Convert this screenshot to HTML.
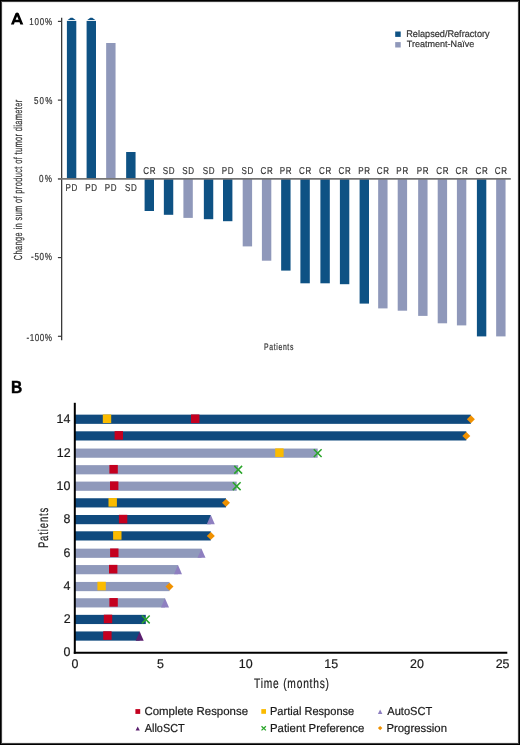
<!DOCTYPE html>
<html><head><meta charset="utf-8"><style>
html,body{margin:0;padding:0;background:#fff;}
.wrap{position:relative;width:520px;height:745px;overflow:hidden;background:#fff;}
.frame{position:absolute;left:0;top:0;width:520px;height:745px;box-shadow:inset 0 0 0 1px #000,inset 0 0 0 2px #404040,inset 0 0 0 3px #eeeeee;}
svg{position:absolute;left:0;top:0;will-change:transform;}
text{font-family:"Liberation Sans",sans-serif;text-rendering:geometricPrecision;}
</style></head><body><div class="wrap">
<svg width="520" height="745" viewBox="0 0 520 745">
<rect x="66.90" y="20.9" width="9.4" height="157.95" fill="#0e5284"/>
<polygon points="67.60,19.9 70.60,17.8 72.60,17.8 75.60,19.9" fill="#0e5284"/>
<text transform="translate(65.57,190.80) scale(0.8,1)" x="0" y="0" font-size="10.00" letter-spacing="0.850" fill="#333333" stroke="#333333" stroke-width="0.2">PD</text>
<rect x="86.60" y="20.9" width="9.4" height="157.95" fill="#0e5284"/>
<polygon points="87.30,19.9 90.30,17.8 92.30,17.8 95.30,19.9" fill="#0e5284"/>
<text transform="translate(85.27,190.80) scale(0.8,1)" x="0" y="0" font-size="10.00" letter-spacing="0.850" fill="#333333" stroke="#333333" stroke-width="0.2">PD</text>
<rect x="106.15" y="43" width="9.4" height="135.85" fill="#8f98ba"/>
<text transform="translate(104.82,190.80) scale(0.8,1)" x="0" y="0" font-size="10.00" letter-spacing="0.850" fill="#333333" stroke="#333333" stroke-width="0.2">PD</text>
<rect x="126.15" y="152" width="9.4" height="26.85" fill="#0e5284"/>
<text transform="translate(124.95,190.80) scale(0.8,1)" x="0" y="0" font-size="10.00" letter-spacing="0.874" fill="#333333" stroke="#333333" stroke-width="0.2">SD</text>
<rect x="144.60" y="178.85" width="9.4" height="32.15" fill="#0e5284"/>
<text transform="translate(143.14,174.20) scale(0.8,1)" x="0" y="0" font-size="10.00" letter-spacing="0.909" fill="#333333" stroke="#333333" stroke-width="0.2">CR</text>
<rect x="163.85" y="178.85" width="9.4" height="35.95" fill="#0e5284"/>
<text transform="translate(162.65,174.20) scale(0.8,1)" x="0" y="0" font-size="10.00" letter-spacing="0.874" fill="#333333" stroke="#333333" stroke-width="0.2">SD</text>
<rect x="183.40" y="178.85" width="9.4" height="39.05" fill="#8f98ba"/>
<text transform="translate(182.20,174.20) scale(0.8,1)" x="0" y="0" font-size="10.00" letter-spacing="0.874" fill="#333333" stroke="#333333" stroke-width="0.2">SD</text>
<rect x="203.85" y="178.85" width="9.4" height="40.35" fill="#0e5284"/>
<text transform="translate(202.65,174.20) scale(0.8,1)" x="0" y="0" font-size="10.00" letter-spacing="0.874" fill="#333333" stroke="#333333" stroke-width="0.2">SD</text>
<rect x="223.00" y="178.85" width="9.4" height="42.35" fill="#0e5284"/>
<text transform="translate(221.67,174.20) scale(0.8,1)" x="0" y="0" font-size="10.00" letter-spacing="0.850" fill="#333333" stroke="#333333" stroke-width="0.2">PD</text>
<rect x="242.70" y="178.85" width="9.4" height="67.55" fill="#8f98ba"/>
<text transform="translate(241.50,174.20) scale(0.8,1)" x="0" y="0" font-size="10.00" letter-spacing="0.874" fill="#333333" stroke="#333333" stroke-width="0.2">SD</text>
<rect x="261.90" y="178.85" width="9.4" height="81.85" fill="#8f98ba"/>
<text transform="translate(260.44,174.20) scale(0.8,1)" x="0" y="0" font-size="10.00" letter-spacing="0.909" fill="#333333" stroke="#333333" stroke-width="0.2">CR</text>
<rect x="281.15" y="178.85" width="9.4" height="91.75" fill="#0e5284"/>
<text transform="translate(279.81,174.20) scale(0.8,1)" x="0" y="0" font-size="10.00" letter-spacing="0.850" fill="#333333" stroke="#333333" stroke-width="0.2">PR</text>
<rect x="300.40" y="178.85" width="9.4" height="104.45" fill="#0e5284"/>
<text transform="translate(298.94,174.20) scale(0.8,1)" x="0" y="0" font-size="10.00" letter-spacing="0.909" fill="#333333" stroke="#333333" stroke-width="0.2">CR</text>
<rect x="320.40" y="178.85" width="9.4" height="104.45" fill="#0e5284"/>
<text transform="translate(318.94,174.20) scale(0.8,1)" x="0" y="0" font-size="10.00" letter-spacing="0.909" fill="#333333" stroke="#333333" stroke-width="0.2">CR</text>
<rect x="339.90" y="178.85" width="9.4" height="105.35" fill="#0e5284"/>
<text transform="translate(338.44,174.20) scale(0.8,1)" x="0" y="0" font-size="10.00" letter-spacing="0.909" fill="#333333" stroke="#333333" stroke-width="0.2">CR</text>
<rect x="359.60" y="178.85" width="9.4" height="124.75" fill="#0e5284"/>
<text transform="translate(358.26,174.20) scale(0.8,1)" x="0" y="0" font-size="10.00" letter-spacing="0.850" fill="#333333" stroke="#333333" stroke-width="0.2">PR</text>
<rect x="378.15" y="178.85" width="9.4" height="129.55" fill="#8f98ba"/>
<text transform="translate(376.69,174.20) scale(0.8,1)" x="0" y="0" font-size="10.00" letter-spacing="0.909" fill="#333333" stroke="#333333" stroke-width="0.2">CR</text>
<rect x="397.70" y="178.85" width="9.4" height="131.85" fill="#8f98ba"/>
<text transform="translate(396.36,174.20) scale(0.8,1)" x="0" y="0" font-size="10.00" letter-spacing="0.850" fill="#333333" stroke="#333333" stroke-width="0.2">PR</text>
<rect x="418.15" y="178.85" width="9.4" height="137.05" fill="#8f98ba"/>
<text transform="translate(416.81,174.20) scale(0.8,1)" x="0" y="0" font-size="10.00" letter-spacing="0.850" fill="#333333" stroke="#333333" stroke-width="0.2">PR</text>
<rect x="437.70" y="178.85" width="9.4" height="144.45" fill="#8f98ba"/>
<text transform="translate(436.24,174.20) scale(0.8,1)" x="0" y="0" font-size="10.00" letter-spacing="0.909" fill="#333333" stroke="#333333" stroke-width="0.2">CR</text>
<rect x="456.90" y="178.85" width="9.4" height="146.55" fill="#8f98ba"/>
<text transform="translate(455.44,174.20) scale(0.8,1)" x="0" y="0" font-size="10.00" letter-spacing="0.909" fill="#333333" stroke="#333333" stroke-width="0.2">CR</text>
<rect x="476.90" y="178.85" width="9.4" height="157.55" fill="#0e5284"/>
<text transform="translate(475.44,174.20) scale(0.8,1)" x="0" y="0" font-size="10.00" letter-spacing="0.909" fill="#333333" stroke="#333333" stroke-width="0.2">CR</text>
<rect x="496.15" y="178.85" width="9.4" height="157.55" fill="#8f98ba"/>
<text transform="translate(494.69,174.20) scale(0.8,1)" x="0" y="0" font-size="10.00" letter-spacing="0.909" fill="#333333" stroke="#333333" stroke-width="0.2">CR</text>
<line x1="61.65" y1="17.8" x2="61.65" y2="340.2" stroke="#3a3a3a" stroke-width="1.3"/>
<line x1="57.9" y1="21.40" x2="62" y2="21.40" stroke="#3a3a3a" stroke-width="1.2"/>
<line x1="57.9" y1="100.12" x2="62" y2="100.12" stroke="#3a3a3a" stroke-width="1.2"/>
<line x1="57.9" y1="178.85" x2="62" y2="178.85" stroke="#3a3a3a" stroke-width="1.2"/>
<line x1="57.9" y1="257.57" x2="62" y2="257.57" stroke="#3a3a3a" stroke-width="1.2"/>
<line x1="57.9" y1="336.30" x2="62" y2="336.30" stroke="#3a3a3a" stroke-width="1.2"/>
<text transform="translate(29.29,25.00) scale(0.8,1)" x="0" y="0" font-size="10.03" letter-spacing="0.948" fill="#333333" stroke="#333333" stroke-width="0.2">100%</text>
<text transform="translate(34.08,103.80) scale(0.8,1)" x="0" y="0" font-size="10.03" letter-spacing="1.342" fill="#333333" stroke="#333333" stroke-width="0.2">50%</text>
<text transform="translate(38.88,181.60) scale(0.8,1)" x="0" y="0" font-size="10.17" letter-spacing="1.804" fill="#333333" stroke="#333333" stroke-width="0.2">0%</text>
<text transform="translate(31.04,260.10) scale(0.8,1)" x="0" y="0" font-size="10.17" letter-spacing="0.812" fill="#333333" stroke="#333333" stroke-width="0.2">-50%</text>
<text transform="translate(26.44,340.50) scale(0.8,1)" x="0" y="0" font-size="10.17" letter-spacing="0.633" fill="#333333" stroke="#333333" stroke-width="0.2">-100%</text>
<line x1="58" y1="178.85" x2="510.8" y2="178.85" stroke="#747474" stroke-width="1.6"/>
<text transform="translate(22.00,260.18) rotate(-90) scale(0.64,1)" x="0" y="0" font-size="11.59" letter-spacing="0.588" fill="#333333" stroke="#333333" stroke-width="0.2">Change in sum of product of tumor diameter</text>
<text transform="translate(264.04,350.00) scale(0.72,1)" x="0" y="0" font-size="9.52" letter-spacing="0.903" fill="#333333" stroke="#333333" stroke-width="0.2">Patients</text>
<rect x="395.2" y="31.5" width="5.5" height="5.4" fill="#0e5284"/>
<rect x="395.2" y="42.1" width="5.5" height="5.4" fill="#8f98ba"/>
<text x="406.25" y="36.80" font-size="9.66" fill="#333333" stroke="#333333" stroke-width="0.2" textLength="83.37" lengthAdjust="spacingAndGlyphs">Relapsed/Refractory</text>
<text x="406.80" y="47.30" font-size="9.16" fill="#333333" stroke="#333333" stroke-width="0.2" textLength="67.40" lengthAdjust="spacingAndGlyphs">Treatment-Naïve</text>
<path fill-rule="evenodd" fill="#000" d="M10.9,24.6 L15.5,13.3 Q17.1,11.9 18.7,13.3 L23.3,24.6 L20.3,24.6 L19.5,22.2 L14.7,22.2 L13.9,24.6 Z M15.6,19.8 L17.1,16.3 L18.6,19.8 Z"/>
<rect x="75" y="414.65" width="395.90" height="9.2" fill="#104a7e"/>
<rect x="102.80" y="414.45" width="8.4" height="8.6" fill="#fbbb00"/>
<rect x="191.00" y="414.45" width="8.4" height="8.6" fill="#c4001f"/>
<polygon points="466.90,419.25 470.90,415.35 474.90,419.25 470.90,423.15" fill="#f09100"/>
<rect x="75" y="431.30" width="391.30" height="9.2" fill="#104a7e"/>
<rect x="114.60" y="431.10" width="8.4" height="8.6" fill="#c4001f"/>
<polygon points="462.30,435.90 466.30,432.00 470.30,435.90 466.30,439.80" fill="#f09100"/>
<rect x="75" y="448.55" width="242.70" height="9.2" fill="#8f99bb"/>
<rect x="275.20" y="448.35" width="8.4" height="8.6" fill="#fbbb00"/>
<path d="M313.80,449.25L321.60,457.05M321.60,449.25L313.80,457.05" stroke="#2aa52a" stroke-width="1.5" fill="none"/>
<rect x="75" y="465.15" width="163.20" height="9.2" fill="#8f99bb"/>
<rect x="109.40" y="464.95" width="8.4" height="8.6" fill="#c4001f"/>
<path d="M234.30,465.85L242.10,473.65M242.10,465.85L234.30,473.65" stroke="#2aa52a" stroke-width="1.5" fill="none"/>
<rect x="75" y="481.60" width="161.70" height="9.2" fill="#8f99bb"/>
<rect x="110.00" y="481.40" width="8.4" height="8.6" fill="#c4001f"/>
<path d="M232.80,482.30L240.60,490.10M240.60,482.30L232.80,490.10" stroke="#2aa52a" stroke-width="1.5" fill="none"/>
<rect x="75" y="498.25" width="151.00" height="9.2" fill="#104a7e"/>
<rect x="108.50" y="498.05" width="8.4" height="8.6" fill="#fbbb00"/>
<polygon points="222.00,502.85 226.00,498.95 230.00,502.85 226.00,506.75" fill="#f09100"/>
<rect x="75" y="515.00" width="135.80" height="9.2" fill="#104a7e"/>
<rect x="118.90" y="514.80" width="8.4" height="8.6" fill="#c4001f"/>
<polygon points="206.80,524.20 210.80,515.00 214.80,524.20" fill="#8e7fc0"/>
<rect x="75" y="531.30" width="135.80" height="9.2" fill="#104a7e"/>
<rect x="113.10" y="531.10" width="8.4" height="8.6" fill="#fbbb00"/>
<polygon points="206.80,535.90 210.80,532.00 214.80,535.90 210.80,539.80" fill="#f09100"/>
<rect x="75" y="548.65" width="126.50" height="9.2" fill="#8f99bb"/>
<rect x="110.10" y="548.45" width="8.4" height="8.6" fill="#c4001f"/>
<polygon points="197.50,557.85 201.50,548.65 205.50,557.85" fill="#8e7fc0"/>
<rect x="75" y="565.05" width="103.00" height="9.2" fill="#8f99bb"/>
<rect x="109.00" y="564.85" width="8.4" height="8.6" fill="#c4001f"/>
<polygon points="174.00,574.25 178.00,565.05 182.00,574.25" fill="#8e7fc0"/>
<rect x="75" y="581.95" width="94.50" height="9.2" fill="#8f99bb"/>
<rect x="97.40" y="581.75" width="8.4" height="8.6" fill="#fbbb00"/>
<polygon points="165.50,586.55 169.50,582.65 173.50,586.55 169.50,590.45" fill="#f09100"/>
<rect x="75" y="598.25" width="90.00" height="9.2" fill="#8f99bb"/>
<rect x="109.40" y="598.05" width="8.4" height="8.6" fill="#c4001f"/>
<polygon points="161.00,607.45 165.00,598.25 169.00,607.45" fill="#8e7fc0"/>
<rect x="75" y="614.85" width="70.80" height="9.2" fill="#104a7e"/>
<rect x="103.80" y="614.65" width="8.4" height="8.6" fill="#c4001f"/>
<path d="M141.90,615.55L149.70,623.35M149.70,615.55L141.90,623.35" stroke="#2aa52a" stroke-width="1.5" fill="none"/>
<rect x="75" y="631.45" width="64.70" height="9.2" fill="#104a7e"/>
<rect x="103.20" y="631.25" width="8.4" height="8.6" fill="#c4001f"/>
<polygon points="135.70,640.65 139.70,631.45 143.70,640.65" fill="#5a1e6e"/>
<line x1="74.8" y1="402.8" x2="74.8" y2="653.75" stroke="#000" stroke-width="2"/>
<line x1="73.8" y1="652.75" x2="507.3" y2="652.75" stroke="#000" stroke-width="2"/>
<text transform="translate(71.39,667.75) scale(0.98,1)" x="0" y="0" font-size="12.70" letter-spacing="0.000" fill="#1a1a1a" stroke="#1a1a1a" stroke-width="0.2">0</text>
<text transform="translate(156.95,667.75) scale(0.98,1)" x="0" y="0" font-size="12.70" letter-spacing="0.000" fill="#1a1a1a" stroke="#1a1a1a" stroke-width="0.2">5</text>
<text transform="translate(238.80,667.75) scale(0.98,1)" x="0" y="0" font-size="12.70" letter-spacing="-0.000" fill="#1a1a1a" stroke="#1a1a1a" stroke-width="0.2">10</text>
<text transform="translate(324.37,667.75) scale(0.98,1)" x="0" y="0" font-size="12.70" letter-spacing="0.000" fill="#1a1a1a" stroke="#1a1a1a" stroke-width="0.2">15</text>
<text transform="translate(410.06,667.75) scale(0.98,1)" x="0" y="0" font-size="12.70" letter-spacing="0.000" fill="#1a1a1a" stroke="#1a1a1a" stroke-width="0.2">20</text>
<text transform="translate(495.63,667.75) scale(0.98,1)" x="0" y="0" font-size="12.70" letter-spacing="0.000" fill="#1a1a1a" stroke="#1a1a1a" stroke-width="0.2">25</text>
<text transform="translate(63.53,656.35) scale(0.98,1)" x="0" y="0" font-size="12.70" letter-spacing="0.000" fill="#1a1a1a" stroke="#1a1a1a" stroke-width="0.2">0</text>
<text transform="translate(63.66,623.10) scale(0.98,1)" x="0" y="0" font-size="12.70" letter-spacing="0.000" fill="#1a1a1a" stroke="#1a1a1a" stroke-width="0.2">2</text>
<text transform="translate(63.40,590.20) scale(0.98,1)" x="0" y="0" font-size="12.70" letter-spacing="0.000" fill="#1a1a1a" stroke="#1a1a1a" stroke-width="0.2">4</text>
<text transform="translate(63.59,556.90) scale(0.98,1)" x="0" y="0" font-size="12.70" letter-spacing="0.000" fill="#1a1a1a" stroke="#1a1a1a" stroke-width="0.2">6</text>
<text transform="translate(63.58,523.25) scale(0.98,1)" x="0" y="0" font-size="12.70" letter-spacing="0.000" fill="#1a1a1a" stroke="#1a1a1a" stroke-width="0.2">8</text>
<text transform="translate(56.61,489.85) scale(0.98,1)" x="0" y="0" font-size="12.70" letter-spacing="-0.000" fill="#1a1a1a" stroke="#1a1a1a" stroke-width="0.2">10</text>
<text transform="translate(56.74,456.80) scale(0.98,1)" x="0" y="0" font-size="12.70" letter-spacing="0.000" fill="#1a1a1a" stroke="#1a1a1a" stroke-width="0.2">12</text>
<text transform="translate(56.48,422.90) scale(0.98,1)" x="0" y="0" font-size="12.70" letter-spacing="-0.000" fill="#1a1a1a" stroke="#1a1a1a" stroke-width="0.2">14</text>
<text transform="translate(254.08,687.60) scale(0.74,1)" x="0" y="0" font-size="13.79" letter-spacing="1.076" fill="#1a1a1a" stroke="#1a1a1a" stroke-width="0.2">Time (months)</text>
<text transform="translate(48.10,548.08) rotate(-90) scale(0.68,1)" x="0" y="0" font-size="13.93" letter-spacing="1.301" fill="#1a1a1a" stroke="#1a1a1a" stroke-width="0.2">Patients</text>
<text x="10.96" y="393.20" font-size="17.59" font-weight="bold" fill="#000" textLength="11.25" lengthAdjust="spacingAndGlyphs" stroke="#000" stroke-width="0.45">B</text>
<rect x="135.4" y="709.1" width="4.8" height="4.8" fill="#c4001f"/>
<rect x="261.3" y="709.1" width="4.7" height="4.7" fill="#fbbb00"/>
<polygon points="377.9,713.9 380.15,709.5 382.4,713.9" fill="#8e7fc0"/>
<polygon points="135.6,730.6 137.7,726.4 139.8,730.6" fill="#5a1e6e"/>
<path d="M261.5,726.2L265.9,730.4M265.9,726.2L261.5,730.4" stroke="#2aa52a" stroke-width="1.3"/>
<polygon points="377.9,728.1 380.15,725.9 382.4,728.1 380.15,730.3" fill="#f09100"/>
<text x="144.42" y="715.10" font-size="11.60" fill="#1a1a1a" stroke="#1a1a1a" stroke-width="0.2" textLength="103.59" lengthAdjust="spacingAndGlyphs">Complete Response</text>
<text x="269.99" y="715.10" font-size="11.60" fill="#1a1a1a" stroke="#1a1a1a" stroke-width="0.2" textLength="84.25" lengthAdjust="spacingAndGlyphs">Partial Response</text>
<text x="387.28" y="715.10" font-size="11.60" fill="#1a1a1a" stroke="#1a1a1a" stroke-width="0.2" textLength="44.98" lengthAdjust="spacingAndGlyphs">AutoSCT</text>
<text x="144.78" y="731.60" font-size="11.60" fill="#1a1a1a" stroke="#1a1a1a" stroke-width="0.2" textLength="39.87" lengthAdjust="spacingAndGlyphs">AlloSCT</text>
<text x="269.97" y="731.60" font-size="11.60" fill="#1a1a1a" stroke="#1a1a1a" stroke-width="0.2" textLength="94.28" lengthAdjust="spacingAndGlyphs">Patient Preference</text>
<text x="386.47" y="731.60" font-size="11.60" fill="#1a1a1a" stroke="#1a1a1a" stroke-width="0.2" textLength="60.52" lengthAdjust="spacingAndGlyphs">Progression</text>
</svg>
<div class="frame"></div>
</div></body></html>
